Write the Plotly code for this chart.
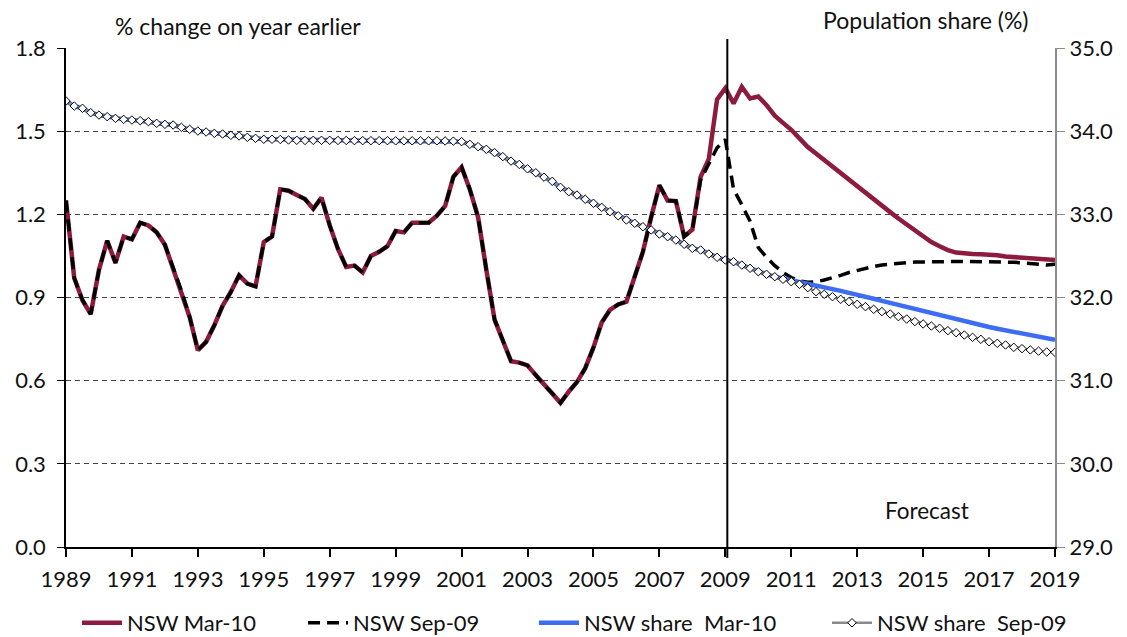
import plotly.graph_objects as go

# Quarterly observations, March quarter 1989 to March quarter 2019 (decimal years)
quarters = [1989 + 0.25 * i for i in range(121)]

# NSW population growth, % change on year earlier (left axis)
nsw_mar10 = [
    1.25, 0.97, 0.89, 0.84, 1.00, 1.105, 1.025, 1.12, 1.11, 1.17, 1.16, 1.135,
    1.09, 1.005, 0.925, 0.83, 0.71, 0.74, 0.80, 0.87, 0.92, 0.98, 0.95, 0.94,
    1.10, 1.12, 1.29, 1.285, 1.27, 1.255, 1.22, 1.26, 1.16, 1.075, 1.01, 1.015,
    0.99, 1.05, 1.065, 1.085, 1.14, 1.135, 1.17, 1.17, 1.17, 1.195, 1.23, 1.335,
    1.37, 1.29, 1.19, 1.00, 0.82, 0.745, 0.67, 0.665, 0.655, 0.62, 0.585, 0.555,
    0.52, 0.56, 0.595, 0.645, 0.72, 0.81, 0.855, 0.875, 0.885, 0.975, 1.065, 1.19,
    1.305, 1.25, 1.248, 1.12, 1.145, 1.335, 1.40, 1.615, 1.655, 1.60, 1.66, 1.618,
    1.625, 1.594, 1.556, 1.53, 1.505, 1.474, 1.443, 1.419, 1.395, 1.372, 1.35, 1.327,
    1.303, 1.279, 1.255, 1.232, 1.208, 1.185, 1.163, 1.14, 1.119, 1.10, 1.085, 1.071,
    1.062, 1.058, 1.057, 1.056, 1.055, 1.052, 1.048, 1.046, 1.044, 1.041, 1.039, 1.037,
    1.035,
]

nsw_sep09 = [
    1.25, 0.97, 0.89, 0.84, 1.00, 1.105, 1.025, 1.12, 1.11, 1.17, 1.16, 1.135,
    1.09, 1.005, 0.925, 0.83, 0.71, 0.74, 0.80, 0.87, 0.92, 0.98, 0.95, 0.94,
    1.10, 1.12, 1.29, 1.285, 1.27, 1.255, 1.22, 1.26, 1.16, 1.075, 1.01, 1.015,
    0.99, 1.05, 1.065, 1.085, 1.14, 1.135, 1.17, 1.17, 1.17, 1.195, 1.23, 1.335,
    1.37, 1.29, 1.19, 1.00, 0.82, 0.745, 0.67, 0.665, 0.655, 0.62, 0.585, 0.555,
    0.52, 0.56, 0.595, 0.645, 0.72, 0.81, 0.855, 0.875, 0.885, 0.975, 1.065, 1.19,
    1.305, 1.25, 1.248, 1.12, 1.145, 1.325, 1.38, 1.44, 1.47, 1.29, 1.235, 1.175,
    1.08, 1.045, 1.015, 0.99, 0.972, 0.96, 0.955, 0.957, 0.963, 0.97, 0.98, 0.99,
    0.998, 1.006, 1.012, 1.017, 1.021, 1.024, 1.026, 1.028, 1.029, 1.03, 1.03, 1.03,
    1.03, 1.03, 1.03, 1.03, 1.03, 1.029, 1.028, 1.027, 1.025, 1.022, 1.019, 1.017,
    1.02,
]

# NSW share of Australian population, % (right axis)
share_sep09 = [
    34.363, 34.302, 34.275, 34.222, 34.194, 34.174, 34.154, 34.142, 34.134, 34.126,
    34.114, 34.094, 34.082, 34.074, 34.046, 34.022, 34.002, 33.99, 33.974, 33.966,
    33.95, 33.942, 33.926, 33.914, 33.902, 33.902, 33.90, 33.894, 33.89, 33.888,
    33.89, 33.89, 33.89, 33.888, 33.888, 33.886, 33.886, 33.886, 33.886, 33.886,
    33.884, 33.884, 33.884, 33.884, 33.884, 33.884, 33.882, 33.88, 33.874, 33.842,
    33.814, 33.782, 33.742, 33.694, 33.64, 33.60, 33.547, 33.50, 33.447, 33.397,
    33.325, 33.272, 33.232, 33.181, 33.133, 33.084, 33.032, 32.983, 32.932, 32.892,
    32.851, 32.812, 32.763, 32.731, 32.691, 32.640, 32.591, 32.571, 32.523, 32.483,
    32.451, 32.43, 32.39, 32.351, 32.31, 32.279, 32.25, 32.219, 32.19, 32.158,
    32.118, 32.07, 32.038, 32.01, 31.978, 31.95, 31.918, 31.89, 31.858, 31.83,
    31.802, 31.77, 31.741, 31.71, 31.682, 31.657, 31.63, 31.601, 31.577, 31.549,
    31.521, 31.497, 31.468, 31.449, 31.429, 31.401, 31.385, 31.37, 31.355, 31.345,
    31.34,
]

share_mar10 = share_sep09[:87] + [
    32.23, 32.205, 32.18, 32.158, 32.14, 32.13, 32.105, 32.08, 32.055, 32.035,
    32.01, 31.985, 31.96, 31.935, 31.91, 31.885, 31.86, 31.835, 31.81, 31.785,
    31.76, 31.735, 31.71, 31.69, 31.665, 31.645, 31.625, 31.605, 31.585, 31.57,
    31.55, 31.53, 31.51, 31.49,
]

year_ticks = list(range(1989, 2020, 2))
forecast_start = 2009.06

FONT = "Lato"
TXT = "#111111"

fig = go.Figure()
fig.add_trace(go.Scatter(x=quarters, y=nsw_mar10, name="NSW Mar-10", mode="lines",
                         line=dict(color="#8C1B3E", width=4.5), legend="legend"))
fig.add_trace(go.Scatter(x=quarters, y=nsw_sep09, name="NSW Sep-09", mode="lines",
                         line=dict(color="black", width=3.5, dash="12px,7px"), legend="legend2"))
fig.add_trace(go.Scatter(x=quarters, y=share_mar10, name="NSW share  Mar-10", mode="lines",
                         line=dict(color="#3D6DF2", width=4.5), yaxis="y2", legend="legend3"))
fig.add_trace(go.Scatter(x=quarters, y=share_sep09, name="NSW share  Sep-09", mode="lines+markers",
                         line=dict(color="#8a8a8a", width=2.5),
                         marker=dict(symbol="diamond", size=6.5, color="white",
                                     line=dict(color="black", width=1)),
                         yaxis="y2", legend="legend4"))

fig.add_shape(type="line", xref="x", yref="paper", x0=forecast_start, x1=forecast_start,
              y0=-0.022, y1=1.018, line=dict(color="black", width=2), layer="above")

fig.add_annotation(text="% change on year earlier", xref="paper", yref="paper",
                   x=0.174, y=1.044, xanchor="center", yanchor="middle", showarrow=False,
                   font=dict(size=23, color=TXT, family=FONT))
fig.add_annotation(text="Population share (%)", xref="paper", yref="paper",
                   x=0.869, y=1.056, xanchor="center", yanchor="middle", showarrow=False,
                   font=dict(size=23, color=TXT, family=FONT))
fig.add_annotation(text="Forecast", xref="x", yref="y", x=2015.13, y=0.133,
                   xanchor="center", yanchor="middle", showarrow=False,
                   font=dict(size=22.5, color=TXT, family=FONT))

legend_common = dict(orientation="h", xref="container", yref="container",
                     yanchor="middle", y=0.022, xanchor="left",
                     bgcolor="rgba(0,0,0,0)", itemwidth=40,
                     font=dict(size=22, color=TXT, family=FONT))

fig.update_layout(
    width=1127, height=637,
    margin=dict(l=66, r=72, t=48, b=90, autoexpand=False),
    paper_bgcolor="white", plot_bgcolor="white",
    font=dict(family=FONT, size=21, color=TXT),
    showlegend=True,
    legend=dict(legend_common, x=0.0683),
    legend2=dict(legend_common, x=0.2689),
    legend3=dict(legend_common, x=0.4738),
    legend4=dict(legend_common, x=0.7338),
    xaxis=dict(range=[1989, 2019], tickmode="array", tickvals=year_ticks,
               ticktext=[str(y) for y in year_ticks], showgrid=False, zeroline=False,
               showline=True, linecolor="black", linewidth=1.5,
               ticks="outside", ticklen=8, tickcolor="black", tickwidth=1.5,
               ticklabelstandoff=4,
               tickfont=dict(size=22, family=FONT, color=TXT)),
    yaxis=dict(range=[0, 1.8], tickmode="linear", tick0=0, dtick=0.3, tickformat=".1f",
               showgrid=True, gridcolor="#444444", griddash="5px,4px", gridwidth=1,
               zeroline=False, showline=True, linecolor="black", linewidth=1.5,
               ticks="outside", ticklen=7, tickcolor="black", ticklabelstandoff=7,
               tickfont=dict(size=22, family=FONT, color=TXT)),
    yaxis2=dict(range=[29, 35], tickmode="linear", tick0=29, dtick=1, tickformat=".1f",
                overlaying="y", side="right", showgrid=False, zeroline=False,
                showline=True, linecolor="#8c8c8c", linewidth=2,
                ticks="outside", ticklen=8, tickcolor="#8c8c8c",
                tickfont=dict(size=22, family=FONT, color=TXT)),
)

# Remove the browser's default page margin so the figure sits at the window origin
fig.write_html("out.html", config={"displayModeBar": False},
               post_script="document.body.style.margin='0px';document.body.style.overflow='hidden';")
